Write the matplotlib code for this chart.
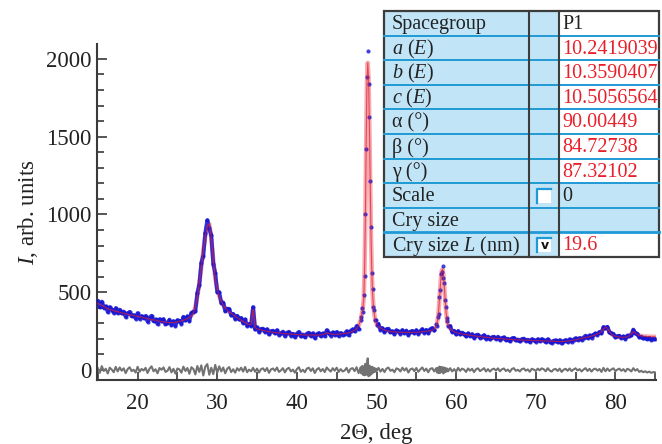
import matplotlib
matplotlib.use("Agg")
import matplotlib.pyplot as plt
from matplotlib.patches import Rectangle
import numpy as np

plt.rcParams['font.family'] = 'Liberation Serif'
plt.rcParams['mathtext.fontset'] = 'custom'
plt.rcParams['mathtext.rm'] = 'Liberation Serif'
plt.rcParams['mathtext.it'] = 'Liberation Serif:italic'

# scan grid (2theta, deg): coarse in the background, finer over the two sharp peaks
grid_a = np.arange(15.0, 47.76, 0.25)
grid_b = np.arange(48.0, 50.01, 0.1)
grid_c = np.arange(50.25, 57.26, 0.25)
grid_d = np.arange(57.5, 59.01, 0.1)
grid_e = np.arange(59.25, 85.01, 0.25)

# calculated profile (red line)
calc_a = [430, 422, 415, 408,  401, 395, 390, 386,  382, 378, 375, 371,
          368, 365, 362, 359,  356, 353, 350, 347,  345, 342, 340, 337,
          334, 331, 328, 325,  322, 320, 317, 314,  312, 310, 308, 306,
          305, 305, 306, 308,  310, 313, 316, 320,  325, 332, 340, 350,
          368, 405, 470, 560,  660, 770, 860, 925,  940, 850, 710, 590,
          520, 475, 442, 418,  400, 386, 374, 364,  355, 346, 337, 329,
          320, 312, 305, 298,  292, 292, 390, 272,  265, 261, 258, 255,
          252, 249, 247, 245,  243, 241, 240, 238,  237, 235, 234, 233,
          232, 231, 230, 229,  228, 227, 227, 226,  226, 225, 225, 225,
          225, 225, 225, 225,  226, 228, 232, 240,  236, 232, 230, 230,
          230, 231, 232, 233,  234, 236, 240, 244,  250, 256, 265, 285]
calc_b = [320, 345, 375, 405, 460, 640, 960, 1450, 1850, 1975, 1880,
          1600, 1250, 900, 650, 500, 420, 370, 335, 312, 298]
calc_c = [280, 270, 262,  257, 253, 250, 248,  246, 245, 244, 243,
          243, 242, 242, 242,  242, 242, 242, 243,  243, 244, 245, 246,
          247, 249, 251, 254,  258, 265]
calc_d = [282, 300, 330, 380, 450, 530, 600, 640, 648, 615, 545, 465,
          395, 342, 308, 288]
calc_e = [268, 255, 246,  240, 237, 234, 232,  230, 228, 226, 224,
          222, 220, 218, 217,  215, 213, 212, 210,  209, 207, 206, 205,
          204, 203, 202, 201,  200, 199, 198, 197,  196, 195, 195, 194,
          193, 193, 192, 192,  191, 191, 190, 190,  189, 189, 188, 188,
          187, 187, 186, 186,  185, 185, 184, 184,  183, 183, 184, 185,
          186, 188, 190, 192,  194, 197, 200, 203,  206, 209, 212, 215,
          218, 222, 226, 232,  238, 248, 262, 276,  268, 248, 232, 222,
          217, 214, 212, 211,  210, 211, 214, 220,  232, 248, 240, 228,
          222, 219, 217, 216,  215, 215, 214, 214,  214]

# difference curve (grey, observed minus calculated)
diff_a = [12, -18, 25, -6,  8, -22, 15, 3,  -14, 20, -9, 17,  -4, 11, -20, 6,
          18, -7, 2, -16,  21, -11, 7, -3,  14, -19, 9, 24,  -8, 5, -21, 13,
          2, 17, -12, -5,  19, -15, 8, -23,  10, 4, -17, 22,  -6, 13, -24, 18,
          7, -28, 26, -12,  30, -35, 22, 38,  -30, 15, -26, 33,  -18, 24, -9, 16,
          -21, 8, 19, -13,  5, -17, 12, -4,  15, -10, 20, -14,  3, -8, 14, -11,
          9, -16, 6, 11,  -7, 13, -18, 4,  10, -5, 16, -12,  -2, 12, -15, 7,
          14, -9, 3, -17,  6, 18, -11, 2,  -14, 9, 15, -6,  11, -19, 4, 13,
          -8, 7, -13, 16,  2, -10, 12, -4,  15, -12, 6, -9,  -3, 14, -16, 8,
          12, -7, 18, -20]
diff_b = [18, -22, 26, -30, 24, -34, 40, -30, 34, 75, -40, 28, -34, 22,
          -24, 20, -16, 14, -12, 10, -8]
diff_c = [14, -10, 7,  -13, 9, 16, -5,  3, -14, 11, 6,  -9, 15, -3, 12,
          -16, 5, 10, -7,  13, -11, 4, 17,  -6, 9, -14, 8,  12, -9]
diff_d = [12, -16, 14, -20, 22, -18, 20, -12, 18, -22, 16, -14, 12, -10, 9, -8]
diff_e = [12, -9, 6,  -11, 14, -5, 9,  3, -12, 10, -4,  8, -13, 5, 11,
          -7, 2, 12, -9,  6, -10, 4, 9,  -3, 11, -8, 5,  10, -6, 3, -12,
          7, 12, -5, 2,  -9, 6, 10, -4,  4, -11, 8, 3,  -6, 9, -2, 11,
          5, -8, 12, -3,  -10, 4, 7, -6,  9, -12, 2, 8,  -5, 10, -7, 4,
          11, -3, 6, -9,  3, 12, -6, 8,  -10, 5, 9, -4,  7, -12, 14, -8,
          10, -6, 4, 11,  -7, 3, 9, -5,  6, -10, 8, 2,  -9, 12, -4, 6,
          -12, -5, -14, -8,  -16, -10, -18, -13,  -15]

segments = [(grid_a, calc_a, diff_a), (grid_b, calc_b, diff_b),
            (grid_c, calc_c, diff_c), (grid_d, calc_d, diff_d),
            (grid_e, calc_e, diff_e)]
tth = np.concatenate([s[0] for s in segments])
calc = np.concatenate([s[1] for s in segments]).astype(float)
diff = np.concatenate([s[2] for s in segments]).astype(float)

# refinement table
row_labels = ['Spacegroup', '$a$ ($E$)', '$b$ ($E$)', '$c$ ($E$)', 'α (°)',
              'β (°)', 'γ (°)', 'Scale', 'Cry size', 'Cry size $L$ (nm)']
row_values = ['P1', '10.2419039', '10.3590407', '10.5056564', '90.00449',
              '84.72738', '87.32102', '0', '', '19.6']
value_red = [False, True, True, True, True, True, True, False, False, True]
checkboxes = {7: '', 9: 'v'}

fig = plt.figure(figsize=(6.62, 4.44), dpi=100)
ax = fig.add_axes([97 / 662, 1 - 380 / 444, 559 / 662, 336 / 444])

blue = '#1414d4'
ax.plot(tth, calc, color='#f7a8b0', lw=3.2, zorder=2, solid_capstyle='round')
# observed points: joined in the slowly varying parts, bare dots on the sharp peaks
for i, (g, c, d) in enumerate(segments):
    o = np.array(c, dtype=float) + np.array(d, dtype=float)
    if i in (0, 2, 4):
        ax.plot(g, o, color=blue, lw=2.8, alpha=0.85, zorder=3)
    ax.plot(g, o, 'o', color=blue, ms=3.0, mew=0, alpha=0.8, zorder=3)
ax.plot(tth, calc, color='#e0202c', lw=0.8, alpha=0.7, zorder=4)
ax.plot(tth, diff, color='#727272', lw=1.5, zorder=2)

ax.set_xlim(14.9, 85.1)
ax.set_ylim(-64, 2096)
ax.set_xticks(np.arange(20, 81, 10))
ax.set_xticks(np.arange(15, 86, 5), minor=True)
ax.set_yticks(np.arange(0, 2001, 500))
ax.set_yticks(np.arange(0, 2001, 100), minor=True)

for s in ['top', 'right']:
    ax.spines[s].set_visible(False)
for s in ['left', 'bottom']:
    ax.spines[s].set_color('#3a3a3a')
    ax.spines[s].set_linewidth(1.5)

ax.tick_params(which='both', direction='in', color='#3a3a3a', width=1.2,
               labelsize=16.5, labelcolor='#222222')
ax.tick_params(axis='x', which='both', length=5.5, pad=9.5)
ax.tick_params(axis='y', which='major', length=7.5, pad=4)
ax.tick_params(axis='y', which='minor', length=5)

ax.set_xlabel('2Θ, deg', fontsize=16.5, color='#222222', labelpad=6)
ax.set_ylabel('$I$, arb. units', fontsize=16.5, color='#222222', labelpad=4)

# table inset
tax = fig.add_axes([384 / 662, 1 - 257 / 444, 275 / 662, 246 / 444], zorder=5)
tax.set_xlim(0, 275)
tax.set_ylim(10, 0)
tax.axis('off')

light = '#c1e4f6'
line_blue = '#1f9ad6'
dark = '#3c3c3c'
col_x = [0, 145, 175, 275]

for r in range(10):
    for c in range(3):
        fc = light
        if c == 2 and r not in (7, 8):
            fc = 'white'
        tax.add_patch(Rectangle((col_x[c], r), col_x[c + 1] - col_x[c], 1,
                                facecolor=fc, edgecolor='none'))
    tax.text(8, r + 0.55, row_labels[r], va='center', ha='left',
             fontsize=14.5, color='#222222')
    tax.text(178, r + 0.55, row_values[r], va='center', ha='left',
             fontsize=14.5, color='#e8202a' if value_red[r] else '#222222')

for r in range(1, 10):
    tax.plot([0, 275], [r, r], color=line_blue, lw=2.0 if r == 9 else 1.4,
             clip_on=False)
for xv in col_x[1:3]:
    tax.plot([xv, xv], [0, 10], color=dark, lw=1.5, clip_on=False)
tax.add_patch(Rectangle((0, 0), 275, 10, facecolor='none', edgecolor=dark,
                        lw=1.6, clip_on=False))

for r, mark in checkboxes.items():
    bx, by, bw, bh = 153, r + 0.22, 14, 0.58
    tax.add_patch(Rectangle((bx, by), bw, bh, facecolor='white',
                            edgecolor='none'))
    tax.plot([bx, bx, bx + bw], [by + bh, by, by], color=line_blue, lw=1.6)
    if mark:
        tax.text(bx + bw / 2 + 0.5, by + bh / 2 + 0.03, mark, ha='center',
                 va='center', fontsize=9, fontweight='bold',
                 family='DejaVu Sans', color='#111111')

fig.savefig('out.png', dpi=100)
